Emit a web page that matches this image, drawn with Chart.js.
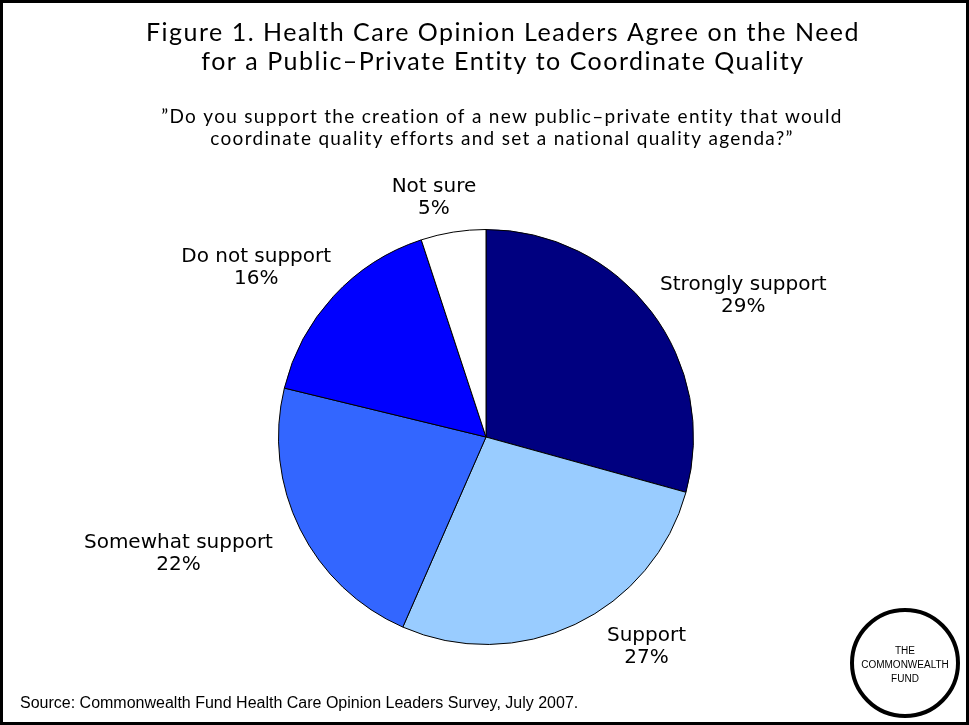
<!DOCTYPE html>
<html>
<head>
<meta charset="utf-8">
<script src="https://cdn.jsdelivr.net/npm/chart.js@4.4.1/dist/chart.umd.min.js"></script>
<style>
  html, body { margin: 0; padding: 0; background: #fff; }
  #wrap { width: 969px; height: 725px; }
</style>
</head>
<body>
<div id="wrap"><canvas id="pieChart" width="969" height="725"></canvas></div>
<script>
// data
const categories = ["Strongly support", "Support", "Somewhat support", "Do not support", "Not sure"];
const shares = [29, 27, 22, 16, 5];
const sliceColors = ["#000080", "#99CCFF", "#3366FF", "#0000FF", "#FFFFFF"];

const titleLines = [
  "Figure 1. Health Care Opinion Leaders Agree on the Need",
  "for a Public\u2013Private Entity to Coordinate Quality"
];
const questionLines = [
  "\u201DDo you support the creation of a new public\u2013private entity that would",
  "coordinate quality efforts and set a national quality agenda?\u201D"
];
const sourceNote = "Source: Commonwealth Fund Health Care Opinion Leaders Survey, July 2007.";
const logoLines = ["THE", "COMMONWEALTH", "FUND"];

// small pixel nudges for the outside labels (style only)
const labelNudge = [[18, 4], [50, -6], [-28, 10], [-15, -7], [-11, -3]];

// Outside labels + texts + frame
const slideText = {
  id: "slideText",
  afterDatasetsDraw(chart) {
    const ctx = chart.ctx;
    const meta = chart.getDatasetMeta(0);
    ctx.save();
    ctx.fillStyle = "#000";
    ctx.textBaseline = "middle";
    ctx.textAlign = "center";
    ctx.font = "20px 'DejaVu Sans'";
    meta.data.forEach((arc, i) => {
      const p = arc.getProps(["x", "y", "startAngle", "endAngle", "outerRadius"], true);
      const mid = (p.startAngle + p.endAngle) / 2;
      const dx = Math.cos(mid), dy = Math.sin(mid);
      const lines = [categories[i], shares[i] + "%"];
      const w = Math.max(...lines.map(t => ctx.measureText(t).width));
      const h = 44;
      const ax = p.x + (p.outerRadius + 10) * dx;
      const ay = p.y + (p.outerRadius + 10) * dy;
      const cx = ax + dx * w / 2 + labelNudge[i][0];
      const cy = ay + dy * h / 2 + labelNudge[i][1];
      ctx.fillText(lines[0], cx, cy - 11);
      ctx.fillText(lines[1], cx, cy + 11);
    });
    ctx.restore();
  },
  afterDraw(chart) {
    const ctx = chart.ctx;
    ctx.save();
    ctx.fillStyle = "#000";
    ctx.textBaseline = "middle";
    ctx.textAlign = "center";
    ctx.font = "25px Lato";
    ctx.letterSpacing = "1.5px";
    ctx.fillText(titleLines[0], 503, 33);
    ctx.fillText(titleLines[1], 503, 62);
    ctx.font = "19px Lato";
    ctx.letterSpacing = "1.3px";
    ctx.fillText(questionLines[0], 502, 117);
    ctx.fillText(questionLines[1], 502, 139);
    ctx.letterSpacing = "0px";

    ctx.textAlign = "left";
    ctx.font = "16px 'Liberation Sans'";
    ctx.fillText(sourceNote, 20, 704);

    // logo
    ctx.lineWidth = 4;
    ctx.strokeStyle = "#000";
    ctx.beginPath();
    ctx.arc(905, 663, 53, 0, Math.PI * 2);
    ctx.stroke();
    ctx.textAlign = "center";
    ctx.font = "10px 'Liberation Sans'";
    ctx.fillText(logoLines[0], 905, 651);
    ctx.fillText(logoLines[1], 905, 665);
    ctx.fillText(logoLines[2], 905, 679);

    // frame
    ctx.lineWidth = 3;
    ctx.strokeRect(1.5, 1.5, 966, 722);
    ctx.restore();
  }
};

new Chart(document.getElementById("pieChart"), {
  type: "pie",
  data: {
    labels: categories,
    datasets: [{
      data: shares,
      backgroundColor: sliceColors,
      borderColor: "#000",
      borderWidth: 1
    }]
  },
  options: {
    responsive: false,
    animation: false,
    devicePixelRatio: 1,
    layout: { padding: { top: 229, bottom: 80, left: 278, right: 275 } },
    plugins: {
      legend: { display: false },
      tooltip: { enabled: false }
    }
  },
  plugins: [slideText]
});
</script>
</body>
</html>
